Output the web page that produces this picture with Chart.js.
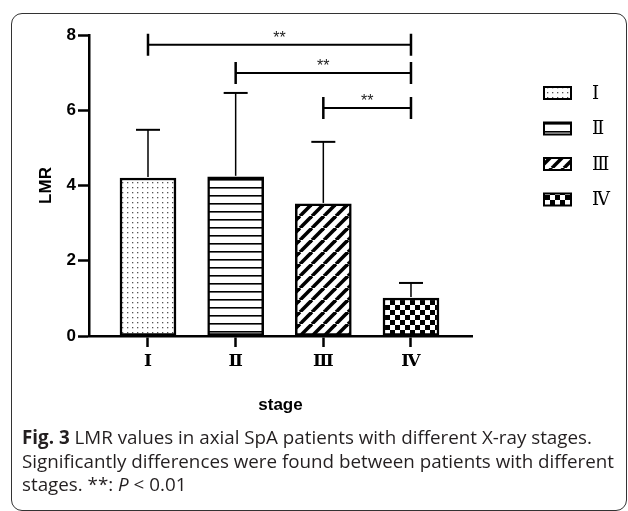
<!DOCTYPE html>
<html>
<head>
<meta charset="utf-8">
<script src="https://cdn.jsdelivr.net/npm/chart.js@4.4.0/dist/chart.umd.min.js"></script>
<style>
    html, body { margin: 0; padding: 0; background: #fff; }
    #wrap { position: relative; width: 628px; height: 511px; overflow: hidden; }
    #frame {
        position: absolute; left: 11px; top: 13px; width: 614px; height: 496px;
        border: 1.3px solid #333; border-radius: 11px;
    }
    #chart { position: absolute; left: 0; top: 0; }
    #caption {
        position: absolute; left: 22px; top: 426px;
        font-family: "Open Sans", sans-serif; font-size: 18.8px; line-height: 23.5px;
        color: #231f20; white-space: nowrap;
    }
</style>
</head>
<body>
<div id="wrap">
    <div id="frame"></div>
    <canvas id="chart" width="628" height="511"></canvas>
    <div id="caption"><b>Fig. 3</b> LMR values in axial SpA patients with different X-ray stages.<br>Significantly differences were found between patients with different<br>stages. **: <i>P</i> &lt; 0.01</div>
</div>
<script>
// LMR by X-ray stage (mean + SD)
const stageLabels = ['Ⅰ', 'Ⅱ', 'Ⅲ', 'Ⅳ'];
const stagePositions = [0, 1, 2, 3];
const lmrMeans = [4.20, 4.23, 3.51, 1.01];
const lmrSD = [1.28, 2.23, 1.65, 0.40];
const yTicks = [0, 2, 4, 6, 8];

// significance brackets: from stage, to stage, height (LMR units)
const bracketFrom = [0, 1, 2];
const bracketTo = [3, 3, 3];
const bracketLevels = [7.74, 6.99, 6.06];
const bracketMarks = ['**', '**', '**'];

const fontSans = '"Liberation Sans", Arial, sans-serif';
const fontSerif = '"DejaVu Serif", "Liberation Serif", serif';

function makePattern(kind) {
    const c = document.createElement('canvas');
    const g = c.getContext('2d');
    if (kind === 'dots') {
        c.width = 5; c.height = 5;
        g.fillStyle = '#fff'; g.fillRect(0, 0, 5, 5);
        g.fillStyle = '#555'; g.fillRect(2, 2, 1.3, 1.3);
    } else if (kind === 'hlines') {
        c.width = 8; c.height = 8;
        g.fillStyle = '#fff'; g.fillRect(0, 0, 8, 8);
        g.fillStyle = '#000'; g.fillRect(0, 3, 8, 1.6);
    } else if (kind === 'diag') {
        const s = 12;
        c.width = s; c.height = s;
        g.fillStyle = '#fff'; g.fillRect(0, 0, s, s);
        g.strokeStyle = '#000'; g.lineWidth = 3.6;
        for (let k = -1; k <= 1; k++) {
            g.beginPath();
            g.moveTo(k * s, s);
            g.lineTo(k * s + s, 0);
            g.stroke();
        }
    } else {
        c.width = 10; c.height = 10;
        g.fillStyle = '#fff'; g.fillRect(0, 0, 10, 10);
        g.fillStyle = '#000';
        g.fillRect(0, 0, 5, 5);
        g.fillRect(5, 5, 5, 5);
    }
    return g.createPattern(c, 'repeat');
}

const ctx = document.getElementById('chart');
const patterns = ['dots', 'hlines', 'diag', 'check'].map(makePattern);

// error bars + significance brackets
const overlayPlugin = {
    id: 'overlay',
    afterDatasetsDraw(chart) {
        const g = chart.ctx;
        const x = chart.scales.x;
        const y = chart.scales.y;
        g.save();
        g.strokeStyle = '#000';

        lmrMeans.forEach((m, i) => {
            const px = x.getPixelForValue(stagePositions[i]);
            const base = y.getPixelForValue(m);
            const top = y.getPixelForValue(m + lmrSD[i]);
            g.lineWidth = 1.5;
            g.beginPath();
            g.moveTo(px, base - 1);
            g.lineTo(px, top);
            g.stroke();
            g.lineWidth = 2;
            g.beginPath();
            g.moveTo(px - 12, top);
            g.lineTo(px + 12, top);
            g.stroke();
        });

        bracketLevels.forEach((lvl, i) => {
            const x1 = x.getPixelForValue(bracketFrom[i]);
            const x2 = x.getPixelForValue(bracketTo[i]);
            const py = y.getPixelForValue(lvl);
            g.lineWidth = 2;
            g.beginPath();
            g.moveTo(x1, py);
            g.lineTo(x2, py);
            g.stroke();
            g.lineWidth = 2.5;
            g.beginPath();
            g.moveTo(x1, py - 11);
            g.lineTo(x1, py + 11);
            g.moveTo(x2, py - 11);
            g.lineTo(x2, py + 11);
            g.stroke();
            g.fillStyle = '#222';
            g.font = '16px ' + fontSans;
            g.textAlign = 'center';
            g.textBaseline = 'alphabetic';
            g.fillText(bracketMarks[i], (x1 + x2) / 2, py - 2);
        });
        g.restore();
    }
};

// legend on the right
const sideLegend = {
    id: 'sideLegend',
    afterDraw(chart) {
        const g = chart.ctx;
        g.save();
        stageLabels.forEach((lab, i) => {
            const cy = 93 + i * 35.5;
            g.fillStyle = patterns[i];
            g.fillRect(544, cy - 6, 27, 12);
            g.lineWidth = 2;
            g.strokeStyle = '#000';
            g.strokeRect(544, cy - 6, 27, 12);
            g.fillStyle = '#000';
            g.font = '18px ' + fontSerif;
            g.textAlign = 'left';
            g.textBaseline = 'middle';
            g.fillText(lab, 592, cy + 1);
        });
        g.restore();
    }
};

new Chart(ctx, {
    type: 'bar',
    data: {
        datasets: [{
            data: stagePositions.map((p, i) => ({ x: p, y: lmrMeans[i] })),
            backgroundColor: patterns,
            borderColor: '#000',
            borderWidth: 2.5,
            borderSkipped: false,
            barThickness: 56
        }]
    },
    options: {
        responsive: false,
        animation: false,
        layout: {
            padding: { left: 36, right: 628 - 472, top: 35, bottom: 511 - 416 }
        },
        plugins: {
            legend: { display: false },
            tooltip: { enabled: false }
        },
        scales: {
            x: {
                type: 'linear',
                offset: false,
                min: -0.673,
                max: 3.696,
                afterBuildTicks: axis => {
                    axis.ticks = stagePositions.map(v => ({ value: v }));
                },
                afterFit: axis => { axis.height = 80; },
                ticks: {
                    callback: v => stageLabels[v],
                    font: { family: fontSerif, size: 17, weight: 'bold' },
                    color: '#000',
                    padding: 4,
                    maxRotation: 0,
                    autoSkip: false
                },
                grid: { offset: false, drawOnChartArea: false, tickLength: 11, tickWidth: 2.5, tickColor: '#000' },
                border: { color: '#000', width: 2.5 },
                title: {
                    display: true,
                    text: 'stage',
                    font: { family: fontSans, size: 17, weight: 'bold' },
                    color: '#000',
                    padding: 0
                }
            },
            y: {
                min: 0,
                max: 8,
                afterBuildTicks: axis => {
                    axis.ticks = yTicks.map(v => ({ value: v }));
                },
                afterFit: axis => { axis.width = 89 - 36; },
                ticks: {
                    font: { family: fontSans, size: 17, weight: 'bold' },
                    color: '#000',
                    padding: 2
                },
                grid: { drawOnChartArea: false, tickLength: 11, tickWidth: 2.5, tickColor: '#000' },
                border: { color: '#000', width: 2.5 },
                title: {
                    display: true,
                    text: 'LMR',
                    font: { family: fontSans, size: 17, weight: 'bold' },
                    color: '#000',
                    padding: 0
                }
            }
        }
    },
    plugins: [overlayPlugin, sideLegend]
});
</script>
</body>
</html>
